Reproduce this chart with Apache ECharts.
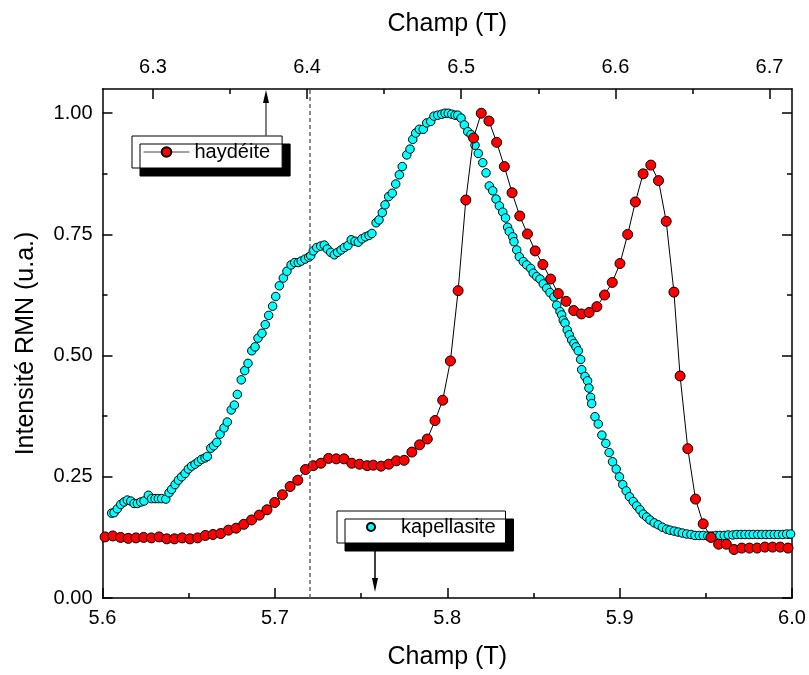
<!DOCTYPE html>
<html><head><meta charset="utf-8">
<script src="https://cdn.jsdelivr.net/npm/echarts@6/dist/echarts.min.js"></script>
<style>html,body{margin:0;padding:0;background:#fff}#c{width:809px;height:675px}</style>
</head><body><div id="c"></div>
<script>
// kapellasite (bottom axis, Champ in T)
const kapX = [
5.6053,5.6067,5.6086,5.6106,5.6125,5.6144,5.6164,5.6183,5.6202,5.6222,
5.6241,5.6266,5.6285,5.6305,5.6324,5.6343,5.6367,5.6386,5.6401,5.6421,
5.6440,5.6459,5.6479,5.6498,5.6517,5.6537,5.6556,5.6575,5.6595,5.6608,
5.6628,5.6645,5.6663,5.6682,5.6705,5.6724,5.6747,5.6765,5.6782,5.6805,
5.6825,5.6844,5.6866,5.6885,5.6902,5.6925,5.6944,5.6964,5.6987,5.7005,
5.7026,5.7049,5.7070,5.7094,5.7115,5.7136,5.7153,5.7175,5.7196,5.7208,
5.7223,5.7243,5.7266,5.7287,5.7304,5.7324,5.7345,5.7364,5.7384,5.7403,
5.7424,5.7443,5.7465,5.7484,5.7505,5.7526,5.7546,5.7563,5.7587,5.7604,
5.7623,5.7639,5.7660,5.7681,5.7701,5.7722,5.7739,5.7765,5.7784,5.7800,
5.7817,5.7838,5.7861,5.7881,5.7904,5.7923,5.7945,5.7968,5.7987,5.8006,
5.8026,5.8045,5.8061,5.8080,5.8099,5.8119,5.8138,5.8161,5.8180,5.8206,
5.8225,5.8244,5.8264,5.8283,5.8302,5.8322,5.8338,5.8350,5.8360,5.8380,
5.8387,5.8403,5.8418,5.8441,5.8461,5.8484,5.8499,5.8519,5.8538,5.8557,
5.8577,5.8596,5.8619,5.8635,5.8654,5.8664,5.8673,5.8683,5.8696,5.8708,
5.8722,5.8735,5.8747,5.8760,5.8774,5.8780,5.8799,5.8814,5.8822,5.8832,
5.8838,5.8857,5.8876,5.8897,5.8920,5.8939,5.8959,5.8980,5.8999,5.9018,
5.9038,5.9057,5.9079,5.9099,5.9118,5.9137,5.9157,5.9176,5.9201,5.9224,
5.9248,5.9273,5.9292,5.9317,5.9340,5.9364,5.9389,5.9414,5.9437,5.9462,
5.9485,5.9511,5.9534,5.9559,5.9582,5.9607,5.9630,5.9656,5.9679,5.9704,
5.9727,5.9752,5.9775,5.9801,5.9824,5.9849,5.9872,5.9897,5.9920,5.9946,
5.9969,5.9992];
const kapY = [
0.175,0.176,0.184,0.193,0.198,0.202,0.200,0.195,0.195,0.198,
0.200,0.212,0.205,0.205,0.205,0.205,0.204,0.217,0.224,0.234,
0.243,0.250,0.257,0.266,0.272,0.276,0.281,0.286,0.289,0.292,
0.309,0.314,0.321,0.338,0.351,0.363,0.388,0.398,0.420,0.450,
0.469,0.484,0.510,0.518,0.536,0.546,0.564,0.583,0.602,0.622,
0.644,0.660,0.674,0.687,0.692,0.692,0.695,0.699,0.703,0.706,
0.716,0.723,0.726,0.728,0.720,0.713,0.708,0.713,0.718,0.723,
0.727,0.739,0.736,0.734,0.741,0.745,0.748,0.752,0.774,0.780,
0.795,0.811,0.828,0.835,0.854,0.873,0.890,0.914,0.926,0.946,
0.959,0.967,0.967,0.980,0.983,0.994,0.996,0.998,1.000,1.000,
0.998,0.996,0.996,0.990,0.976,0.962,0.956,0.934,0.917,0.898,
0.877,0.850,0.840,0.823,0.809,0.796,0.784,0.765,0.756,0.745,
0.735,0.718,0.704,0.694,0.687,0.680,0.670,0.663,0.658,0.648,
0.639,0.630,0.621,0.604,0.591,0.584,0.573,0.567,0.553,0.543,
0.532,0.525,0.518,0.510,0.492,0.471,0.457,0.448,0.433,0.414,
0.401,0.374,0.359,0.336,0.319,0.300,0.281,0.266,0.250,0.234,
0.221,0.209,0.199,0.190,0.182,0.173,0.167,0.161,0.155,0.151,
0.146,0.142,0.140,0.138,0.136,0.134,0.132,0.131,0.129,0.129,
0.129,0.128,0.128,0.129,0.129,0.129,0.130,0.130,0.131,0.131,
0.131,0.131,0.131,0.131,0.131,0.131,0.131,0.131,0.131,0.131,
0.132,0.132];

// haydéite (top axis, Champ in T)
const hayX = [
6.269,6.274,6.279,6.284,6.289,6.294,6.299,6.304,6.309,6.314,
6.319,6.324,6.329,6.334,6.339,6.344,6.349,6.354,6.359,6.364,
6.369,6.374,6.379,6.384,6.389,6.394,6.399,6.404,6.409,6.414,
6.419,6.424,6.429,6.434,6.439,6.443,6.448,6.453,6.458,6.463,
6.468,6.473,6.478,6.483,6.488,6.493,6.498,6.503,6.508,6.513,
6.518,6.523,6.528,6.533,6.538,6.543,6.548,6.553,6.558,6.563,
6.568,6.573,6.578,6.583,6.588,6.593,6.598,6.603,6.608,6.613,
6.618,6.623,6.628,6.633,6.638,6.642,6.647,6.652,6.657,6.662,
6.667,6.672,6.677,6.682,6.687,6.692,6.697,6.702,6.707,6.712];
const hayY = [
0.126,0.128,0.125,0.123,0.124,0.125,0.124,0.126,0.122,0.122,
0.124,0.122,0.124,0.129,0.131,0.133,0.140,0.144,0.152,0.161,
0.171,0.182,0.197,0.213,0.230,0.243,0.265,0.273,0.278,0.288,
0.287,0.287,0.278,0.276,0.273,0.274,0.272,0.276,0.283,0.284,
0.301,0.316,0.328,0.366,0.408,0.489,0.634,0.821,0.949,1.000,
0.984,0.940,0.890,0.836,0.788,0.751,0.716,0.688,0.658,0.628,
0.612,0.593,0.586,0.589,0.601,0.625,0.651,0.690,0.750,0.817,
0.875,0.893,0.861,0.777,0.631,0.458,0.308,0.204,0.153,0.125,
0.111,0.111,0.100,0.103,0.103,0.103,0.105,0.105,0.105,0.103];

const seriesNames = ['haydéite', 'kapellasite'];
const axisTitleX = 'Champ (T)';
const axisTitleY = 'Intensité RMN (u.a.)';
const bottomRange = [5.6, 6.0];
const topRange = [6.2673, 6.7146];
const yRange = [0, 1.05];
const bottomMajor = [5.6, 5.7, 5.8, 5.9, 6.0];
const bottomMinor = [5.65, 5.75, 5.85, 5.95];
const topMajor = [6.3, 6.4, 6.5, 6.6, 6.7];
const topMinor = [6.35, 6.45, 6.55, 6.65];
const yMajor = [0, 0.25, 0.5, 0.75, 1.0];
const yMinor = [0.125, 0.375, 0.625, 0.875];
const markerX = 5.722;

const FONT = 'Liberation Sans, Arial, sans-serif';

function mkAxis(pos, range, ticks, len, showLine, label, extra) {
  return Object.assign({
    type: 'value', gridIndex: 0, position: pos, min: range[0], max: range[1],
    axisLine: { show: showLine, onZero: false, lineStyle: { color: '#000', width: 1.5 } },
    axisTick: { show: true, inside: true, length: len, customValues: ticks, lineStyle: { color: '#000', width: 1.5 } },
    axisLabel: label ? Object.assign({ show: true, customValues: ticks, color: '#000', fontSize: 20, fontFamily: FONT }, label) : { show: false },
    splitLine: { show: false }, minorTick: { show: false }, minorSplitLine: { show: false }
  }, extra || {});
}
const nameStyle = { color: '#000', fontSize: 25, fontFamily: FONT };

const chart = echarts.init(document.getElementById('c'), null, { renderer: 'canvas' });
chart.setOption({
  animation: false,
  backgroundColor: '#fff',
  grid: { left: 102.5, right: 17, top: 89, bottom: 77, containLabel: false },
  xAxis: [
    mkAxis('bottom', bottomRange, bottomMajor, 10, true, { margin: 10, formatter: v => v.toFixed(1) },
      { name: axisTitleX, nameLocation: 'middle', nameGap: 47, nameTextStyle: nameStyle }),
    mkAxis('bottom', bottomRange, bottomMinor, 5, false, null),
    mkAxis('top', topRange, topMajor, 10, true, { margin: 12, formatter: v => v.toFixed(1) },
      { name: axisTitleX, nameLocation: 'middle', nameGap: 52, nameTextStyle: nameStyle }),
    mkAxis('top', topRange, topMinor, 5, false, null)
  ],
  yAxis: [
    mkAxis('left', yRange, yMajor, 10, true, { margin: 10, formatter: v => v.toFixed(2) },
      { name: axisTitleY, nameLocation: 'middle', nameGap: 64, nameTextStyle: nameStyle }),
    mkAxis('left', yRange, yMinor, 5, false, null),
    mkAxis('right', yRange, yMajor, 10, true, null),
    mkAxis('right', yRange, yMinor, 5, false, null)
  ],
  legend: [
    { data: [seriesNames[0]], left: 132, top: 136, padding: [6, 12, 6, 11], itemWidth: 46, itemHeight: 12,
      selectedMode: false, backgroundColor: '#fff', borderColor: '#000', borderWidth: 1,
      shadowColor: '#000', shadowBlur: 0, shadowOffsetX: 8, shadowOffsetY: 8,
      lineStyle: { color: '#444', width: 1 },
      textStyle: { color: '#000', fontSize: 20, fontFamily: FONT } },
    { data: [seriesNames[1]], left: 337, top: 511, padding: [6, 10, 6, 29], itemWidth: 50, itemHeight: 8,
      selectedMode: false, backgroundColor: '#fff', borderColor: '#000', borderWidth: 1,
      shadowColor: '#000', shadowBlur: 0, shadowOffsetX: 8, shadowOffsetY: 8,
      textStyle: { color: '#000', fontSize: 20, fontFamily: FONT } }
  ],
  graphic: [
    { type: 'line', z: 100, shape: { x1: 266, y1: 136, x2: 266, y2: 100 }, style: { stroke: '#555', lineWidth: 1.5 } },
    { type: 'polygon', z: 100, shape: { points: [[266, 90], [263, 103], [269, 103]] }, style: { fill: '#000' } },
    { type: 'line', z: 100, shape: { x1: 375, y1: 550, x2: 375, y2: 580 }, style: { stroke: '#000', lineWidth: 1.5 } },
    { type: 'polygon', z: 100, shape: { points: [[375, 592], [372, 578], [378, 578]] }, style: { fill: '#000' } }
  ],
  series: [
    { name: seriesNames[1], type: 'scatter', xAxisIndex: 0, yAxisIndex: 0, z: 2,
      data: kapX.map((x, i) => [x, kapY[i]]),
      symbol: 'circle', symbolSize: 8.5,
      itemStyle: { color: '#00ffff', borderColor: '#000', borderWidth: 1, opacity: 1 },
      emphasis: { disabled: true },
      markLine: { silent: true, symbol: 'none', label: { show: false }, animation: false,
        lineStyle: { color: '#666', type: [4, 3], width: 1.5 }, data: [{ xAxis: markerX }] } },
    { name: seriesNames[0], type: 'line', xAxisIndex: 2, yAxisIndex: 0, z: 3,
      data: hayX.map((x, i) => [x, hayY[i]]),
      symbol: 'circle', symbolSize: 10, showSymbol: true, showAllSymbol: true,
      lineStyle: { color: '#000', width: 1 },
      itemStyle: { color: '#ff0000', borderColor: '#000', borderWidth: 1 },
      emphasis: { disabled: true } }
  ]
});
</script>
</body></html>
